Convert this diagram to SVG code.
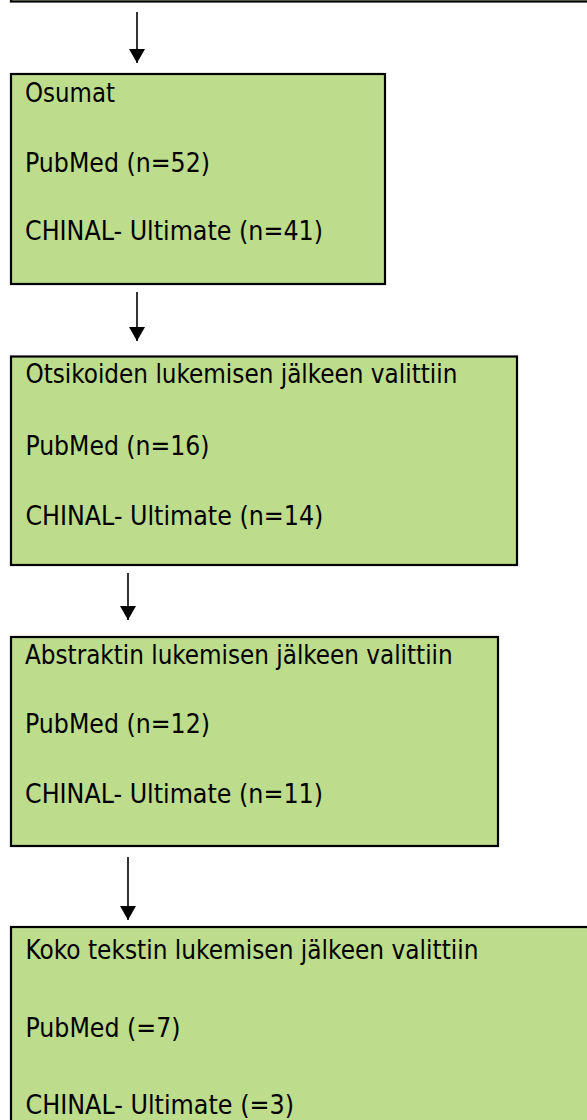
<svg xmlns="http://www.w3.org/2000/svg" width="587" height="1120" viewBox="0 0 587 1120">
<style>
.box{fill:#BDDC8C;stroke:#000;stroke-width:2.2}
.t{font-family:'DejaVu Sans Condensed','DejaVu Sans',sans-serif;font-stretch:condensed;font-size:26px;fill:#000}
.c{stroke:#000;stroke-width:1.6;fill:none}
</style>
<defs>
<marker id="ah" viewBox="0 0 14 16" refX="14" refY="8" markerWidth="14" markerHeight="16" markerUnits="userSpaceOnUse" orient="auto">
<path d="M0,0 L14,8 L0,16 Z" fill="#000"/>
</marker>
</defs>
<rect width="587" height="1120" fill="#fff"/>
<g id="node0">
<rect class="box" x="11" y="-40" width="600" height="41.5"/>
</g>
<g id="node1">
<rect class="box" x="11" y="74" width="374" height="210"/>
<text class="t" x="25" y="101.5" textLength="90" lengthAdjust="spacingAndGlyphs">Osumat</text>
<text class="t" x="25" y="171.5" textLength="185" lengthAdjust="spacingAndGlyphs">PubMed (n=52)</text>
<text class="t" x="25" y="240" textLength="298" lengthAdjust="spacingAndGlyphs">CHINAL- Ultimate (n=41)</text>
</g>
<g id="node2">
<rect class="box" x="11" y="356.5" width="506" height="208.5"/>
<text class="t" x="25.4" y="383" textLength="432" lengthAdjust="spacingAndGlyphs">Otsikoiden lukemisen jälkeen valittiin</text>
<text class="t" x="25.4" y="454.5" textLength="184" lengthAdjust="spacingAndGlyphs">PubMed (n=16)</text>
<text class="t" x="25.4" y="524.5" textLength="298" lengthAdjust="spacingAndGlyphs">CHINAL- Ultimate (n=14)</text>
</g>
<g id="node3">
<rect class="box" x="11" y="637" width="487" height="209"/>
<text class="t" x="25" y="664" textLength="427.7" lengthAdjust="spacingAndGlyphs">Abstraktin lukemisen jälkeen valittiin</text>
<text class="t" x="25" y="733" textLength="185" lengthAdjust="spacingAndGlyphs">PubMed (n=12)</text>
<text class="t" x="25" y="803" textLength="298" lengthAdjust="spacingAndGlyphs">CHINAL- Ultimate (n=11)</text>
</g>
<g id="node4">
<rect class="box" x="11" y="927" width="600" height="220"/>
<text class="t" x="25.5" y="959" textLength="453" lengthAdjust="spacingAndGlyphs">Koko tekstin lukemisen jälkeen valittiin</text>
<text class="t" x="25.5" y="1036.5" textLength="155" lengthAdjust="spacingAndGlyphs">PubMed (=7)</text>
<text class="t" x="25.5" y="1114" textLength="268.5" lengthAdjust="spacingAndGlyphs">CHINAL- Ultimate (=3)</text>
</g>
<g id="connectors">
<line class="c" x1="137" y1="12" x2="137" y2="63" marker-end="url(#ah)"/>
<line class="c" x1="137" y1="292" x2="137" y2="341" marker-end="url(#ah)"/>
<line class="c" x1="128" y1="573" x2="128" y2="620" marker-end="url(#ah)"/>
<line class="c" x1="128" y1="857" x2="128" y2="920" marker-end="url(#ah)"/>
</g>
</svg>
